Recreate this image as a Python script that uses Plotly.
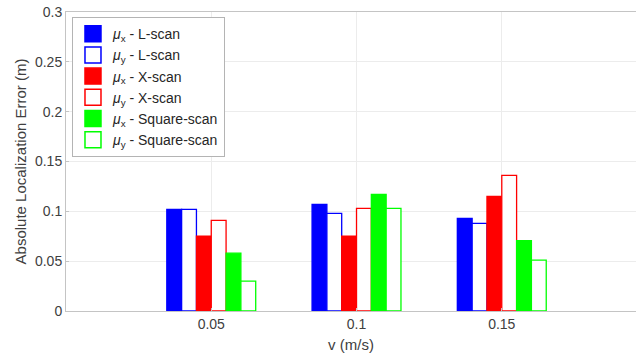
import plotly.graph_objects as go

speeds = [0.05, 0.1, 0.15]
speed_labels = ["0.05", "0.1", "0.15"]

mux_lscan = [0.102, 0.107, 0.093]
muy_lscan = [0.102, 0.098, 0.088]
mux_xscan = [0.075, 0.075, 0.115]
muy_xscan = [0.091, 0.103, 0.136]
mux_sq = [0.058, 0.117, 0.0705]
muy_sq = [0.030, 0.103, 0.051]

series = [
    ("<i>μ</i><sub>x</sub> - L-scan", mux_lscan, "#0000ff", True),
    ("<i>μ</i><sub>y</sub> - L-scan", muy_lscan, "#0000ff", False),
    ("<i>μ</i><sub>x</sub> - X-scan", mux_xscan, "#ff0000", True),
    ("<i>μ</i><sub>y</sub> - X-scan", muy_xscan, "#ff0000", False),
    ("<i>μ</i><sub>x</sub> - Square-scan", mux_sq, "#00ff00", True),
    ("<i>μ</i><sub>y</sub> - Square-scan", muy_sq, "#00ff00", False),
]

fig = go.Figure()
for name, vals, col, filled in series:
    fig.add_trace(go.Bar(
        x=speeds, y=vals, name=name, showlegend=False,
        marker=dict(color=col if filled else "white",
                    line=dict(color=col, width=1.3)),
    ))
# legend proxies with larger square swatches
for name, vals, col, filled in series:
    fig.add_trace(go.Scatter(
        x=[None], y=[None], mode="markers", name=name,
        marker=dict(symbol="square", size=16,
                    color=col if filled else "white",
                    line=dict(color=col, width=1.5)),
    ))

axis_col = "#c4c4c4"
tick_font = dict(family="Liberation Sans, Arial, sans-serif", size=14, color="#404040")

fig.update_layout(
    width=636, height=358,
    margin=dict(l=66, r=0, t=12, b=47),
    paper_bgcolor="white", plot_bgcolor="white",
    barmode="group", bargap=0.388, bargroupgap=0,
    font=dict(family="Liberation Sans, Arial, sans-serif", size=14, color="#262626"),
    legend=dict(
        x=0.0105, y=0.983, xanchor="left", yanchor="top",
        bgcolor="white", bordercolor="#b4b4b4", borderwidth=1,
        font=dict(size=14, color="#262626"),
        itemsizing="trace", tracegroupgap=0, itemwidth=30,
    ),
    xaxis=dict(
        range=[0, 0.1962], tickvals=speeds, ticktext=speed_labels,
        showline=True, linecolor=axis_col, linewidth=1, mirror=True,
        showgrid=True, gridcolor="#ececec", gridwidth=1,
        ticks="inside", ticklen=3, tickcolor=axis_col,
        zeroline=False, tickfont=tick_font,
        title=dict(text="v (m/s)", font=dict(size=15, color="#404040"), standoff=8),
    ),
    yaxis=dict(
        range=[0, 0.3], tickvals=[0, 0.05, 0.1, 0.15, 0.2, 0.25, 0.3],
        ticktext=["0", "0.05", "0.1", "0.15", "0.2", "0.25", "0.3"],
        showline=True, linecolor=axis_col, linewidth=1,
        showgrid=True, gridcolor="#ececec", gridwidth=1,
        ticks="inside", ticklen=3, tickcolor=axis_col,
        zeroline=False, tickfont=tick_font,
        title=dict(text="Absolute Localization Error (m)", font=dict(size=15, color="#404040"), standoff=4),
    ),
)

fig.write_html("out.html", post_script="document.body.style.margin='0';",
               config={"displayModeBar": False})
